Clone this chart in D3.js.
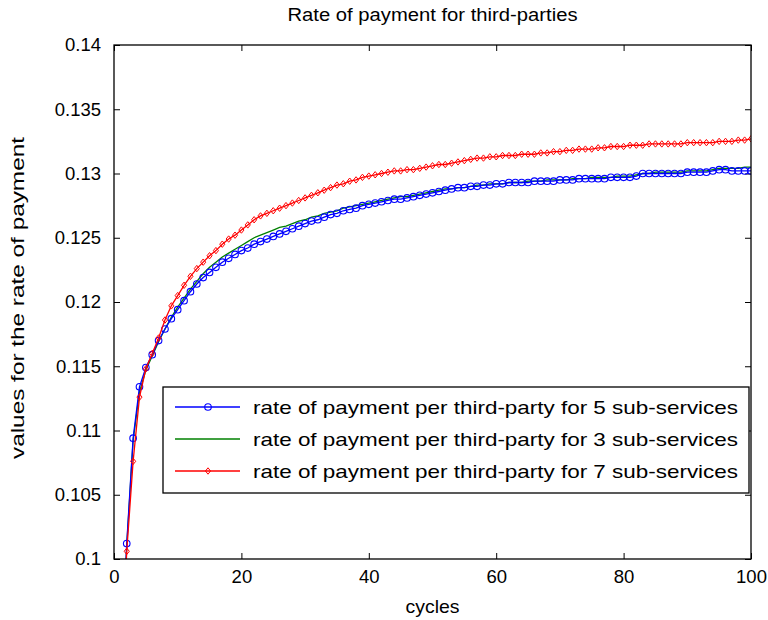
<!DOCTYPE html>
<html>
<head>
<meta charset="utf-8">
<script src="https://cdn.jsdelivr.net/npm/d3@7"></script>
<style>
  html, body { margin: 0; padding: 0; background: #fff; }
  svg { display: block; }
  text { font-family: "Liberation Sans", Arial, sans-serif; fill: #000; }
</style>
</head>
<body>
<svg id="chart" width="768" height="620"></svg>
<script>
// ---------------- DATA ----------------
const chartTitle = "Rate of payment for third-parties";
const xLabel = "cycles";
const yLabel = "values for the rate of payment";
const xTicks = [0, 20, 40, 60, 80, 100];
const yTicks = [0.1, 0.105, 0.11, 0.115, 0.12, 0.125, 0.13, 0.135, 0.14];
const yTickLabels = ["0.1", "0.105", "0.11", "0.115", "0.12", "0.125", "0.13", "0.135", "0.14"];
const cycles = d3.range(1, 101);

const seriesNames = [
  "rate of payment per third-party for 5 sub-services",
  "rate of payment per third-party for 3 sub-services",
  "rate of payment per third-party for 7 sub-services"
];

// 5 sub-services (blue, circles)
const rate5 = [
  0.0900, 0.1012, 0.1094, 0.1134, 0.1149, 0.1159, 0.1170, 0.1179, 0.1187, 0.1194,
  0.1201, 0.1208, 0.1214, 0.1219, 0.1223, 0.1227, 0.1231, 0.1234, 0.1237, 0.1240,
  0.1242, 0.1245, 0.1247, 0.1249, 0.1251, 0.1253, 0.1255, 0.1257, 0.1259, 0.1261,
  0.1263, 0.1264, 0.1266, 0.1268, 0.1269, 0.1271, 0.1272, 0.1273, 0.1275, 0.1276,
  0.1277, 0.1278, 0.1279, 0.1280, 0.1280, 0.1281, 0.1282, 0.1283, 0.1284, 0.1285,
  0.1286, 0.1287, 0.1288, 0.1289, 0.1289, 0.1290, 0.1290, 0.1291, 0.1291, 0.1292,
  0.1292, 0.1293, 0.1293, 0.1293, 0.1293, 0.1294, 0.1294, 0.1294, 0.1294, 0.1295,
  0.1295, 0.1295, 0.1296, 0.1296, 0.1296, 0.1296, 0.1296, 0.1297, 0.1297, 0.1297,
  0.1297, 0.1298, 0.1300, 0.1300, 0.1300, 0.1300, 0.1300, 0.1300, 0.1300, 0.1301,
  0.1301, 0.1301, 0.1301, 0.1302, 0.1303, 0.1303, 0.1302, 0.1302, 0.1302, 0.1302
];

// 3 sub-services (green, no markers)
const rate3 = [
  0.0900, 0.1010, 0.1092, 0.1130, 0.1147, 0.1158, 0.1169, 0.1179, 0.1188, 0.1196,
  0.1203, 0.1210, 0.1216, 0.1222, 0.1227, 0.1231, 0.1235, 0.1238, 0.1241, 0.1244,
  0.1247, 0.1250, 0.1252, 0.1254, 0.1256, 0.1258, 0.1259, 0.1261, 0.1263, 0.1264,
  0.1266, 0.1267, 0.1269, 0.1270, 0.1271, 0.1273, 0.1274, 0.1275, 0.1276, 0.1277,
  0.1278, 0.1279, 0.1280, 0.1281, 0.1282, 0.1282, 0.1283, 0.1284, 0.1285, 0.1286,
  0.1287, 0.1288, 0.1288, 0.1289, 0.1289, 0.1290, 0.1291, 0.1291, 0.1292, 0.1292,
  0.1292, 0.1293, 0.1293, 0.1293, 0.1294, 0.1294, 0.1294, 0.1295, 0.1295, 0.1295,
  0.1295, 0.1296, 0.1296, 0.1296, 0.1297, 0.1297, 0.1297, 0.1297, 0.1298, 0.1298,
  0.1298, 0.1299, 0.1300, 0.1300, 0.1301, 0.1301, 0.1301, 0.1301, 0.1301, 0.1302,
  0.1302, 0.1302, 0.1302, 0.1303, 0.1304, 0.1304, 0.1304, 0.1304, 0.1305, 0.1305
];

// 7 sub-services (red, diamonds)
const rate7 = [
  0.0900, 0.1006, 0.1076, 0.1126, 0.1148, 0.1160, 0.1172, 0.1186, 0.1197, 0.1205,
  0.1213, 0.1220, 0.1226, 0.1231, 0.1236, 0.1240, 0.1245, 0.1249, 0.1252, 0.1256,
  0.1260, 0.1264, 0.1267, 0.1269, 0.1271, 0.1273, 0.1275, 0.1277, 0.1279, 0.1281,
  0.1283, 0.1285, 0.1287, 0.1289, 0.1291, 0.1292, 0.1294, 0.1295, 0.1297, 0.1298,
  0.1299, 0.1300, 0.1301, 0.1302, 0.1302, 0.1303, 0.1303, 0.1304, 0.1305, 0.1306,
  0.1307, 0.1307, 0.1308, 0.1309, 0.1310, 0.1311, 0.1312, 0.1312, 0.1313, 0.1313,
  0.1314, 0.1314, 0.1314, 0.1315, 0.1315, 0.1315, 0.1316, 0.1316, 0.1317, 0.1317,
  0.1318, 0.1318, 0.1319, 0.1319, 0.1319, 0.1320, 0.1320, 0.1321, 0.1321, 0.1321,
  0.1322, 0.1322, 0.1322, 0.1323, 0.1323, 0.1323, 0.1323, 0.1323, 0.1323, 0.1324,
  0.1324, 0.1324, 0.1324, 0.1324, 0.1325, 0.1325, 0.1325, 0.1326, 0.1326, 0.1327
];

const seriesValues = [rate5, rate3, rate7];
const seriesColors = ["#0000ff", "#008000", "#ff0000"];
const seriesMarkers = ["circle", "none", "diamond"];
const drawOrder = [1, 0, 2];

// ---------------- LAYOUT ----------------
const svg = d3.select("#chart");
const plot = { left: 114, right: 751, top: 45, bottom: 559 };
const fontFam = "Liberation Sans, Arial, sans-serif";

const x = d3.scaleLinear().domain([0, 100]).range([plot.left, plot.right]);
const y = d3.scaleLinear().domain([0.1, 0.14]).range([plot.bottom, plot.top]);

svg.append("rect").attr("width", 768).attr("height", 620).attr("fill", "#fff");

svg.append("defs").append("clipPath").attr("id", "clip")
  .append("rect")
  .attr("x", plot.left).attr("y", plot.top)
  .attr("width", plot.right - plot.left).attr("height", plot.bottom - plot.top);

// ticks (inward, on all four sides)
const tickLen = 6;
const axB = svg.append("g").attr("transform", `translate(0,${plot.bottom})`)
  .call(d3.axisBottom(x).tickValues(xTicks).tickSizeInner(-tickLen).tickSizeOuter(0).tickPadding(11).tickFormat(d3.format("d")));
const axT = svg.append("g").attr("transform", `translate(0,${plot.top})`)
  .call(d3.axisTop(x).tickValues(xTicks).tickSizeInner(-tickLen).tickSizeOuter(0).tickFormat(""));
const axL = svg.append("g").attr("transform", `translate(${plot.left},0)`)
  .call(d3.axisLeft(y).tickValues(yTicks).tickSizeInner(-tickLen).tickSizeOuter(0).tickPadding(13)
    .tickFormat((d, i) => yTickLabels[i]));
const axR = svg.append("g").attr("transform", `translate(${plot.right},0)`)
  .call(d3.axisRight(y).tickValues(yTicks).tickSizeInner(-tickLen).tickSizeOuter(0).tickFormat(""));

[axB, axT, axL, axR].forEach(g => {
  g.select(".domain").remove();
  g.selectAll("line").attr("stroke", "#000").attr("stroke-width", 1);
  g.selectAll("text").attr("font-size", 18.5).attr("font-family", fontFam).attr("fill", "#000");
});
axB.selectAll("text").attr("dy", "0.71em");

// series
const lineGen = d3.line().x((d, i) => x(cycles[i])).y(d => y(d));
const dataG = svg.append("g").attr("clip-path", "url(#clip)");

const diamond = (cx, cy, r) => `M${cx},${cy - r}L${cx + r * 0.8},${cy}L${cx},${cy + r}L${cx - r * 0.8},${cy}Z`;

drawOrder.forEach(si => {
  const vals = seriesValues[si];
  const g = dataG.append("g");
  g.append("path").datum(vals)
    .attr("d", lineGen).attr("fill", "none")
    .attr("stroke", seriesColors[si]).attr("stroke-width", 1.3);
  if (seriesMarkers[si] === "circle") {
    g.selectAll("circle").data(vals).enter().append("circle")
      .attr("cx", (d, i) => x(cycles[i])).attr("cy", d => y(d)).attr("r", 3.3)
      .attr("fill", "none").attr("stroke", seriesColors[si]).attr("stroke-width", 1.1);
  } else if (seriesMarkers[si] === "diamond") {
    g.selectAll("path.mk").data(vals).enter().append("path").attr("class", "mk")
      .attr("d", (d, i) => diamond(x(cycles[i]), y(d), 3.2))
      .attr("fill", "none").attr("stroke", seriesColors[si]).attr("stroke-width", 1);
  }
});

// box
svg.append("rect")
  .attr("x", plot.left).attr("y", plot.top)
  .attr("width", plot.right - plot.left).attr("height", plot.bottom - plot.top)
  .attr("fill", "none").attr("stroke", "#000").attr("stroke-width", 1.3);

// title & labels
svg.append("text").attr("x", (plot.left + plot.right) / 2).attr("y", 21)
  .attr("text-anchor", "middle").attr("font-size", 17.5)
  .attr("textLength", 290).attr("lengthAdjust", "spacingAndGlyphs")
  .text(chartTitle);
svg.append("text").attr("x", (plot.left + plot.right) / 2).attr("y", 613)
  .attr("text-anchor", "middle").attr("font-size", 19)
  .attr("textLength", 54).attr("lengthAdjust", "spacingAndGlyphs")
  .text(xLabel);
svg.append("text")
  .attr("transform", `translate(24,${(plot.top + plot.bottom) / 2 - 4}) rotate(-90)`)
  .attr("text-anchor", "middle").attr("font-size", 19)
  .attr("textLength", 322).attr("lengthAdjust", "spacingAndGlyphs")
  .text(yLabel);

// legend
const leg = { left: 163, top: 387, width: 586, height: 106 };
const lg = svg.append("g");
lg.append("rect").attr("x", leg.left).attr("y", leg.top)
  .attr("width", leg.width).attr("height", leg.height)
  .attr("fill", "#fff").attr("stroke", "#000").attr("stroke-width", 1.3);
seriesNames.forEach((name, i) => {
  const ry = leg.top + 20 + i * 32;
  const row = lg.append("g");
  row.append("line").attr("x1", leg.left + 12).attr("x2", leg.left + 77)
    .attr("y1", ry).attr("y2", ry).attr("stroke", seriesColors[i]).attr("stroke-width", 1.3);
  const mx = leg.left + 45;
  if (seriesMarkers[i] === "circle") {
    row.append("circle").attr("cx", mx).attr("cy", ry).attr("r", 3.3)
      .attr("fill", "none").attr("stroke", seriesColors[i]).attr("stroke-width", 1.1);
  } else if (seriesMarkers[i] === "diamond") {
    row.append("path").attr("d", diamond(mx, ry, 3.2))
      .attr("fill", "none").attr("stroke", seriesColors[i]);
  }
  row.append("text").attr("x", leg.left + 90).attr("y", ry + 6.5)
    .attr("font-size", 18.5)
    .attr("textLength", 485).attr("lengthAdjust", "spacingAndGlyphs")
    .text(name);
});
</script>
</body>
</html>
